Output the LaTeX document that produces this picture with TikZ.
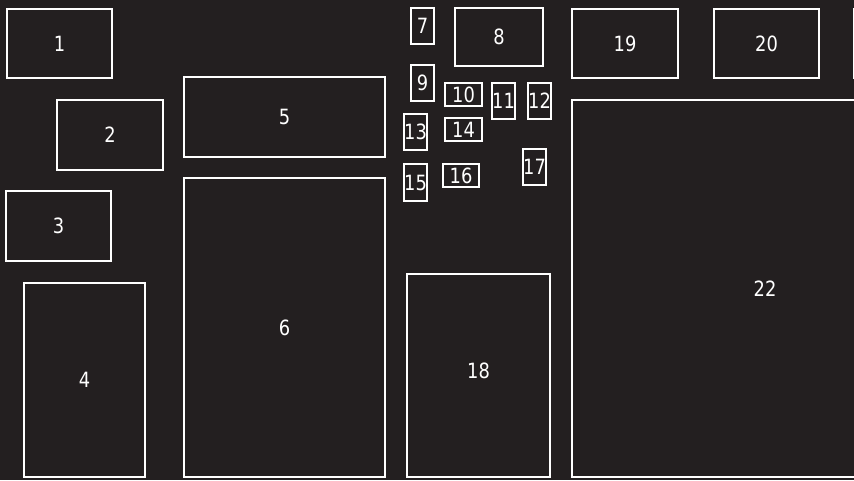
\documentclass[tikz,border=0pt]{standalone}
\usepackage{fontspec}
\setmainfont{DejaVu Sans}[FakeStretch=0.85]
\definecolor{panelbg}{HTML}{231F20}
\tikzset{
  fuse/.style={draw=white, line width=2.8pt, text=white, inner sep=0pt,
    font=\fontsize{21}{21}\selectfont},
}
\begin{document}
\begin{tikzpicture}[x=1pt,y=-1pt]
\fill[panelbg] (0,0) rectangle (854,480);
\useasboundingbox (0,0) rectangle (854,480);
\clip (0,0) rectangle (854,480);

% left column
\node[fuse, minimum width=105, minimum height=69] (f1) at (59.5,43.5) {1};
\node[fuse, minimum width=106, minimum height=70] (f2) at (110,135) {2};
\node[fuse, minimum width=105, minimum height=70] (f3) at (58.5,226) {3};
\node[fuse, minimum width=121, minimum height=194] (f4) at (84.5,380) {4};

% middle column
\node[fuse, minimum width=201, minimum height=80] (f5) at (284.5,117) {5};
\node[fuse, minimum width=201, minimum height=299] (f6) at (284.5,327.5) {6};

% small fuses
\node[fuse, minimum width=23, minimum height=36] (f7) at (422.5,26) {7};
\node[fuse, minimum width=88, minimum height=58] (f8) at (499,37) {8};
\node[fuse, minimum width=23, minimum height=36] (f9) at (422.5,83) {9};
\node[fuse, minimum width=37, minimum height=23] (f10) at (463.5,94.5) {10};
\node[fuse, minimum width=23, minimum height=36] (f11) at (503.5,101) {11};
\node[fuse, minimum width=23, minimum height=36] (f12) at (539.5,101) {12};
\node[fuse, minimum width=23, minimum height=36] (f13) at (415.5,132) {13};
\node[fuse, minimum width=37, minimum height=23] (f14) at (463.5,129.5) {14};
\node[fuse, minimum width=23, minimum height=37] (f15) at (415.5,182.5) {15};
\node[fuse, minimum width=36, minimum height=23] (f16) at (461,175.5) {16};
\node[fuse, minimum width=23, minimum height=36] (f17) at (534.5,167) {17};
\node[fuse, minimum width=143, minimum height=203] (f18) at (478.5,375.5) {};
\node[text=white, font=\fontsize{21}{21}\selectfont] (l18) at (478.5,371) {18};

% right column
\node[fuse, minimum width=106, minimum height=69] (f19) at (625,43.5) {19};
\node[fuse, minimum width=105, minimum height=69] (f20) at (766.5,43.5) {20};
\node[fuse, minimum width=105, minimum height=69] (f21) at (906.5,43.5) {};
\node[fuse, minimum width=386, minimum height=377] (f22) at (765,288.5) {22};
\end{tikzpicture}
\end{document}
